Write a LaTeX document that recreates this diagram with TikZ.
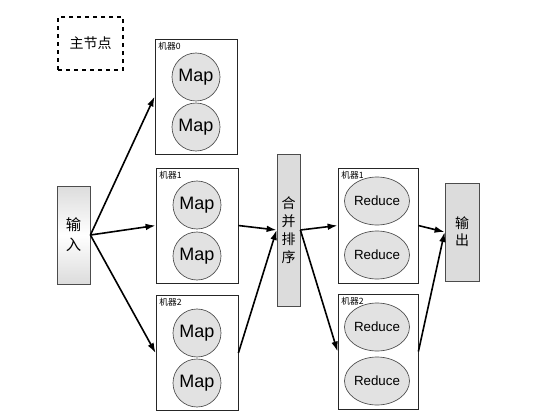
\documentclass[tikz,border=0pt]{standalone}
\usepackage{fontspec}
\setmainfont{Liberation Sans}
\newfontfamily\cjk{Noto Sans CJK SC}
\usetikzlibrary{arrows.meta,shapes.geometric}

\definecolor{mapgray}{RGB}{226,226,226}
\definecolor{boxgray}{RGB}{220,220,220}

\tikzset{every picture/.style={line width=0.75pt}}
\tikzset{
  machine/.style={draw=black!85, line width=0.6pt, minimum width=61.5pt, minimum height=86.25pt, inner sep=0pt},
  mlabel/.style={anchor=north west, inner xsep=2.5pt, inner ysep=2pt, font=\cjk\fontsize{6.5}{7}\selectfont},
  mapnode/.style={circle, draw=black!70, line width=0.5pt, fill=mapgray, minimum size=36pt, inner sep=0pt, font=\fontsize{13.5}{15}\selectfont},
  rednode/.style={ellipse, draw=black!70, line width=0.5pt, fill=mapgray, minimum width=48pt, minimum height=36pt, inner sep=0pt, font=\fontsize{10}{12}\selectfont},
  graybox/.style={draw=black!70, line width=0.6pt, fill=boxgray, inner sep=0pt, align=center},
  flow/.style={line width=1.2pt, -{Latex[length=7.5pt,width=5pt]}}
}

\begin{document}
\begin{tikzpicture}[x=0.75pt,y=0.75pt,yscale=-1,xscale=1]
\useasboundingbox (0,0) rectangle (547,419);

%Shape: Rectangle [master]
\node [draw, dashed, line width=1pt, minimum width=48.75pt, minimum height=39.75pt, font=\cjk\fontsize{10.5}{12}\selectfont] (master) at (90.5,43.5) {主节点};

%Shape: Rectangle [input]
\node [draw=black!70, line width=0.6pt, top color=boxgray, bottom color=boxgray, middle color=white, minimum width=24.75pt, minimum height=73.5pt, inner sep=0pt, align=center, font=\cjk\fontsize{11.5}{15}\selectfont] (in) at (73.5,235) {输\\入};

%Map machines
\node [machine] (m0) at (196,96.5) {};
\node [machine] (m1) at (197,225.5) {};
\node [machine] (m2) at (197,353) {};
\node [mlabel] (m0lab) at (m0.north west) {机器0};
\node [mlabel] (m1lab) at (m1.north west) {机器1};
\node [mlabel] (m2lab) at (m2.north west) {机器2};
\node [mapnode] (map0a) at (196,77) {Map};
\node [mapnode] (map0b) at (196,127) {Map};
\node [mapnode] (map1a) at (197,205) {Map};
\node [mapnode] (map1b) at (197,256) {Map};
\node [mapnode] (map2a) at (197,333) {Map};
\node [mapnode] (map2b) at (197,383) {Map};

%Shape: Rectangle [merge and sort]
\node [graybox, minimum width=17.25pt, minimum height=114pt, font=\cjk\fontsize{10.5}{13.5}\selectfont] (merge) at (288.5,230) {合\\并\\排\\序};

%Reduce machines
\node [machine, minimum width=60pt] (r1) at (378,225.5) {};
\node [machine, minimum width=60pt] (r2) at (378,351.5) {};
\node [mlabel] (r1lab) at (r1.north west) {机器1};
\node [mlabel] (r2lab) at (r2.north west) {机器2};
\node [rednode] (red1a) at (377,201) {Reduce};
\node [rednode] (red1b) at (377,255) {Reduce};
\node [rednode] (red2a) at (377,327) {Reduce};
\node [rednode] (red2b) at (377,381) {Reduce};

%Shape: Rectangle [output]
\node [graybox, minimum width=25.5pt, minimum height=73.5pt, font=\cjk\fontsize{10.5}{12.75}\selectfont] (out) at (462,232) {输\\出};

%Straight Lines
\draw [flow] (in.east) -- (m0.west);
\draw [flow] (in.east) -- (m1.west);
\draw [flow] (in.east) -- (m2.west);
\draw [flow] (m1.east) -- (merge.west);
\draw [flow] (m2.east) -- (merge.west);
\draw [flow] (merge.east) -- (r1.west);
\draw [flow] (merge.east) -- (r2.west);
\draw [flow] (r1.east) -- (out.west);
\draw [flow] (r2.east) -- (out.west);

\end{tikzpicture}
\end{document}
